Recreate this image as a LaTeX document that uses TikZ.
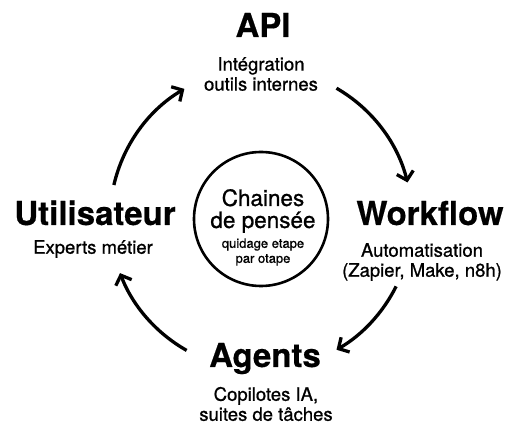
\documentclass[tikz,border=0pt]{standalone}
\usepackage{fontspec}
\setmainfont{TeX Gyre Heros}[BoldFeatures={FakeBold=0.5}]
\newfontfamily\medfont[FakeBold=0.9]{TeX Gyre Heros}
\usetikzlibrary{arrows.meta,positioning}
\begin{document}
\begin{tikzpicture}[x=1pt,y=1pt]
  \tikzstyle{head}=[font=\fontsize{33}{35}\selectfont\bfseries, inner sep=0pt, anchor=base]
  \tikzstyle{sub}=[font=\medfont\fontsize{18.5}{20}\selectfont, align=center, inner sep=0pt]
  \tikzstyle{core}=[circle, draw, line width=2.6pt, minimum size=134pt, inner sep=0pt]
  \tikzstyle{coretitle}=[font=\medfont\fontsize{22.5}{22}\selectfont, align=center, inner sep=0pt]
  \tikzstyle{coresub}=[font=\medfont\fontsize{13}{15}\selectfont, align=center, inner sep=0pt]
  \tikzstyle{flow}=[line width=3.3pt, -{Straight Barb[length=8pt,width=17pt]}]

  \useasboundingbox (0,0) rectangle (506,425);

  \coordinate (c) at (261,206);
  \node[core] (chain) at (c) {};
  \node[coretitle] (chaintitle) at (263,214) {Chaines\\de pensée};
  \node[coresub]   (chainsub)   at (263,173) {quidage etape\\par otape};

  \node[head] (api)   at (263,388) {API};
  \node[sub]  (apisub) at (261,351) {Intégration\\outils internes};

  \node[head] (work)    at (430,200) {Workflow};
  \node[sub]  (worksub) at (422,163) {Automatisation\\(Zapier, Make, n8h)};

  \node[head] (agent)    at (265,58) {Agents};
  \node[sub]  (agentsub) at (266,21) {Copilotes IA,\\suites de tâches};

  \node[head] (user)    at (95,200) {Utilisateur};
  \node[sub]  (usersub) at (93,176) {Experts métier};

  \draw[flow] ([shift={(167:151)}]c)   arc[start angle=167,   end angle=120.5, radius=151];
  \draw[flow] ([shift={(60:151)}]c)    arc[start angle=60,    end angle=14,    radius=151];
  \draw[flow] ([shift={(-26.5:151)}]c) arc[start angle=-26.5, end angle=-60,   radius=151];
  \draw[flow] ([shift={(240.5:151)}]c) arc[start angle=240.5, end angle=201,   radius=151];
\end{tikzpicture}
\end{document}
